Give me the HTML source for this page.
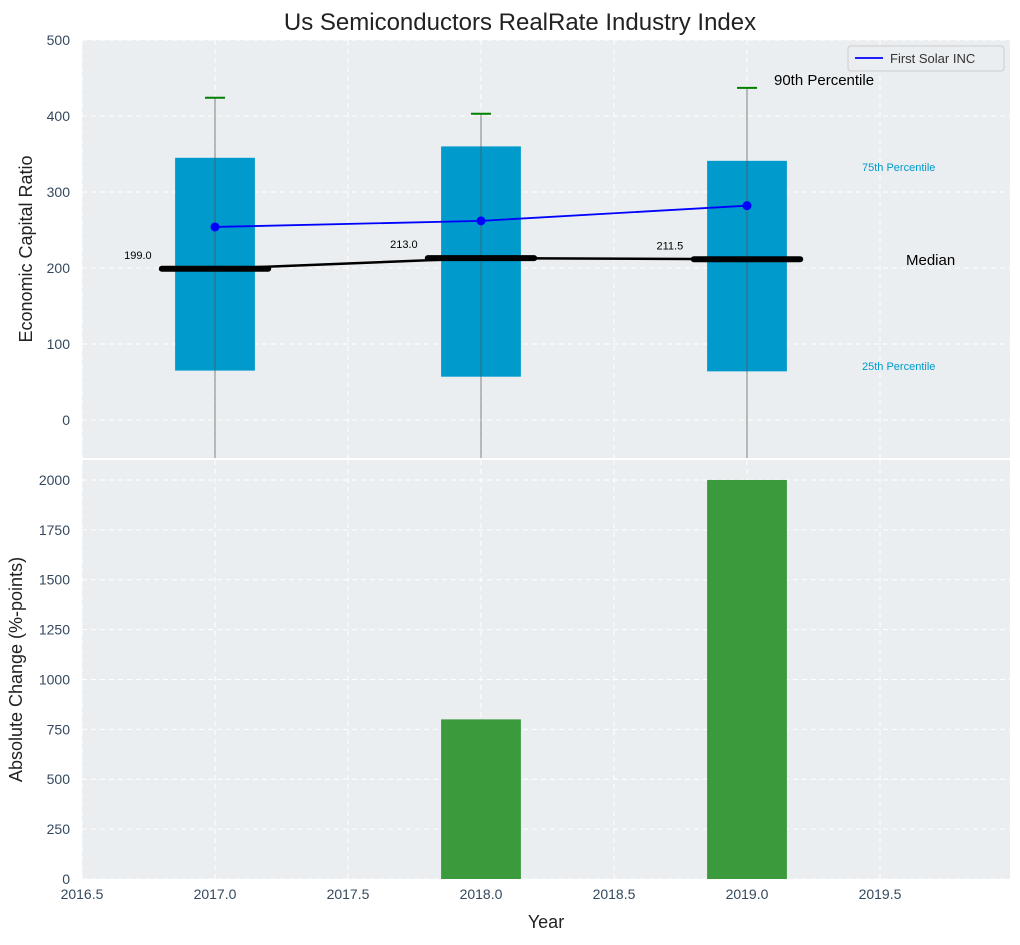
<!DOCTYPE html>
<html><head><meta charset="utf-8">
<style>
body{margin:0;background:#fff;font-family:"Liberation Sans",sans-serif;}
svg text{font-family:"Liberation Sans",sans-serif;}
</style></head>
<body>
<svg id="chart" width="1020" height="940" xmlns="http://www.w3.org/2000/svg">
<text x="520" y="30" text-anchor="middle" font-size="24" fill="#222">Us Semiconductors RealRate Industry Index</text>
<g id="topPanel"></g>
<g id="botPanel"></g>
</svg>
<script>
const years = [2017, 2018, 2019];
const p25 = [65, 57, 64];
const p75 = [345, 360, 341];
const p90 = [424, 403, 437];
const medians = [199, 213, 211.5];
const companyVals = [254, 262, 282];
const changes = [0, 800, 2000];
const topTicks = [0, 100, 200, 300, 400, 500];
const botTicks = [0, 250, 500, 750, 1000, 1250, 1500, 1750, 2000];
const xTicks = [2016.5, 2017, 2017.5, 2018, 2018.5, 2019, 2019.5];

const NS = "http://www.w3.org/2000/svg";
const L = 82, R = 1010;
const xs = v => L + (v - 2016.5) * 266;
const T0 = 40, T1 = 458;
const yt = v => T1 - (v + 50) / 550 * (T1 - T0);
const B0 = 460, B1 = 879;
const yb = v => B1 - v / 2100 * (B1 - B0);
const tickCol = '#34495e';

function mk(parent, tag, attrs, text) {
  const el = document.createElementNS(NS, tag);
  for (const k in attrs) el.setAttribute(k, attrs[k]);
  if (text !== undefined) el.textContent = text;
  parent.appendChild(el);
  return el;
}
const topG = document.getElementById('topPanel');
const botG = document.getElementById('botPanel');

let e;
e = mk(topG, 'rect', {x: L, y: T0, width: R - L, height: T1 - T0, fill: '#eaeef0'});


e = mk(botG, 'rect', {x: L, y: B0, width: R - L, height: B1 - B0, fill: '#eaeef0'});



xTicks.forEach(t => {
  mk(topG, 'line', {x1: xs(t), x2: xs(t), y1: T0, y2: T1, stroke: '#fff', 'stroke-dasharray': '5,4', 'stroke-width': 1});
  mk(botG, 'line', {x1: xs(t), x2: xs(t), y1: B0, y2: B1, stroke: '#fff', 'stroke-dasharray': '5,4', 'stroke-width': 1});
  e = mk(botG, 'text', {x: xs(t), y: B1 + 20, 'text-anchor': 'middle', 'font-size': 14, fill: tickCol}, t.toFixed(1));
  
  
});
topTicks.forEach(t => {
  mk(topG, 'line', {x1: L, x2: R, y1: yt(t), y2: yt(t), stroke: '#fff', 'stroke-dasharray': '5,4', 'stroke-width': 1});
  e = mk(topG, 'text', {x: L - 12, y: yt(t) + 5, 'text-anchor': 'end', 'font-size': 14, fill: tickCol}, t);
  
  
});
botTicks.forEach(t => {
  mk(botG, 'line', {x1: L, x2: R, y1: yb(t), y2: yb(t), stroke: '#fff', 'stroke-dasharray': '5,4', 'stroke-width': 1});
  e = mk(botG, 'text', {x: L - 12, y: yb(t) + 5, 'text-anchor': 'end', 'font-size': 14, fill: tickCol}, t);
  
  
});

const bw = 0.3;
years.forEach((yr, i) => {
  e = mk(topG, 'rect', {x: xs(yr - bw / 2), y: yt(p75[i]), width: xs(yr + bw / 2) - xs(yr - bw / 2), height: yt(p25[i]) - yt(p75[i]), fill: '#009acd'});
  
  
  e = mk(topG, 'line', {x1: xs(yr), x2: xs(yr), y1: yt(p90[i]), y2: T1, stroke: '#555', 'stroke-opacity': 0.6, 'stroke-width': 1.2});
  
  
  e = mk(topG, 'line', {x1: xs(yr) - 10, x2: xs(yr) + 10, y1: yt(p90[i]), y2: yt(p90[i]), stroke: 'green', 'stroke-width': 2});
  
  
});
e = mk(topG, 'polyline', {points: years.map((y, i) => xs(y) + ',' + yt(medians[i])).join(' '), fill: 'none', stroke: '#000', 'stroke-width': 2.5});


years.forEach((yr, i) => {
  e = mk(topG, 'line', {x1: xs(yr - 0.2), x2: xs(yr + 0.2), y1: yt(medians[i]), y2: yt(medians[i]), stroke: '#000', 'stroke-width': 6, 'stroke-linecap': 'round'});
  
  
  e = mk(topG, 'text', {x: xs(yr - 0.29), y: yt(medians[i]) - 10, 'text-anchor': 'middle', 'font-size': 11, fill: '#000'}, medians[i].toFixed(1));
  
  
});
e = mk(topG, 'polyline', {points: years.map((y, i) => xs(y) + ',' + yt(companyVals[i])).join(' '), fill: 'none', stroke: '#00f', 'stroke-width': 1.8});


years.forEach((yr, i) => {
  e = mk(topG, 'circle', {cx: xs(yr), cy: yt(companyVals[i]), r: 4.5, fill: '#00f'});
  
  
});
const ann = [[774, 85, 15, '#000', '90th Percentile', 'p90-annotation'], [862, 171, 11, '#0099cc', '75th Percentile', 'p75-annotation'], [906, 265, 15, '#000', 'Median', 'median-annotation'], [862, 370, 11, '#0099cc', '25th Percentile', 'p25-annotation']];
ann.forEach(a => {
  e = mk(topG, 'text', {x: a[0], y: a[1], 'font-size': a[2], fill: a[3]}, a[4]);
  
  
});
const lg = mk(topG, 'g', {});


mk(lg, 'rect', {x: 848, y: 46, width: 156, height: 25, rx: 3, fill: '#eaeef0', stroke: '#ccc'});
mk(lg, 'line', {x1: 855, x2: 883, y1: 58, y2: 58, stroke: '#00f', 'stroke-width': 1.8});
e = mk(lg, 'text', {x: 890, y: 63, 'font-size': 13, fill: '#333'}, 'First Solar INC');



years.forEach((yr, i) => {
  if (changes[i] <= 0) return;
  e = mk(botG, 'rect', {x: xs(yr - bw / 2), y: yb(changes[i]), width: xs(yr + bw / 2) - xs(yr - bw / 2), height: yb(0) - yb(changes[i]), fill: '#3a9a3c'});
  
  
});

e = mk(topG, 'text', {x: 32, y: (T0 + T1) / 2, 'text-anchor': 'middle', 'font-size': 18, fill: '#222', transform: `rotate(-90 32 ${(T0 + T1) / 2})`}, 'Economic Capital Ratio');


e = mk(botG, 'text', {x: 22, y: (B0 + B1) / 2, 'text-anchor': 'middle', 'font-size': 18, fill: '#222', transform: `rotate(-90 22 ${(B0 + B1) / 2})`}, 'Absolute Change (%-points)');


e = mk(botG, 'text', {x: (L + R) / 2, y: 928, 'text-anchor': 'middle', 'font-size': 18, fill: '#222'}, 'Year');


</script>
</body></html>
